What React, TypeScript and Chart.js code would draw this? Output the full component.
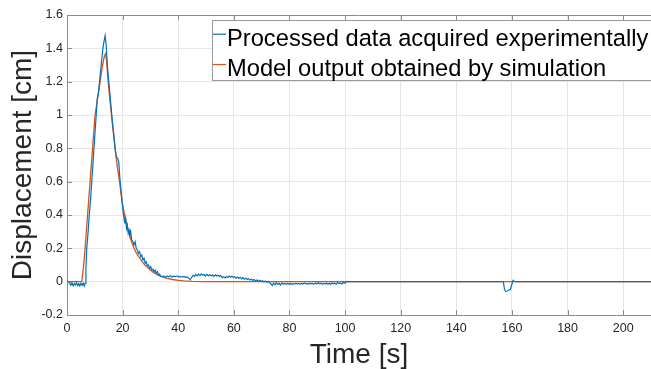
import { useEffect, useRef } from 'react';
import { Chart, registerables } from 'chart.js';

Chart.register(...registerables);

const xTicks = [0, 20, 40, 60, 80, 100, 120, 140, 160, 180, 200];
const yTicks = [-0.2, 0, 0.2, 0.4, 0.6, 0.8, 1, 1.2, 1.4, 1.6];
const seriesLabels = ['Processed data acquired experimentally', 'Model output obtained by simulation'];
const xTitle = 'Time [s]';
const yTitle = 'Displacement [cm]';

const expT = [
  0, 0.5, 1, 1.4, 1.8, 2.2, 2.6, 3, 3.4, 3.8, 4.2, 4.6, 5, 5.4, 5.8, 6.2, 6.5, 6.8, 7.1, 7.6,
  8, 8.5, 8.9, 9.3, 9.7, 10.1, 10.5, 10.9, 11.3, 11.7, 12.3, 12.9, 13.3, 13.7, 14.1, 14.5, 15.3, 16.1, 16.7, 17.3,
  17.7, 18.2, 18.6, 19.1, 19.7, 20.1, 20.5, 20.8, 21.1, 21.4, 21.7, 22.0, 22.3, 22.6, 22.9, 23.3, 23.7, 24.1, 24.5, 24.9,
  25.3, 25.7, 26.1, 26.5, 26.9, 27.3, 27.7, 28.1, 28.5, 28.9, 29.3, 29.7, 30.1, 30.5, 30.9, 31.3, 31.7, 32.1, 32.5, 32.9,
  33.3, 33.7, 34.2, 34.8, 35.4, 36, 36.6, 37.2, 37.8, 38.4, 39, 39.6, 40.2, 40.8, 41.4, 42, 42.6, 43.2, 43.8, 44.3,
  44.8, 45.3, 45.8, 46.3, 46.8, 47.3, 47.8, 48.3, 48.8, 49.3, 49.8, 50.3, 50.8, 51.3, 51.8, 52.3, 52.8, 53.3, 53.8, 54.3,
  54.8, 55.3, 55.8, 56.3, 56.8, 57.3, 57.8, 58.3, 58.8, 59.3, 59.8, 60.3, 60.8, 61.3, 61.8, 62.3, 62.8, 63.3, 63.8, 64.3,
  64.8, 65.3, 65.8, 66.3, 66.8, 67.3, 67.8, 68.3, 68.8, 69.3, 69.8, 70.3, 70.8, 71.3, 71.8, 72.3, 72.8, 73.3, 73.8, 74.3,
  74.8, 75.3, 75.8, 76.3, 76.8, 77.3, 77.8, 78.3, 78.8, 79.3, 79.8, 80.3, 80.8, 81.3, 81.8, 82.3, 82.8, 83.3, 83.8, 84.3,
  84.8, 85.3, 85.8, 86.3, 86.8, 87.3, 87.8, 88.3, 88.8, 89.3, 89.8, 90.3, 90.8, 91.3, 91.8, 92.3, 92.8, 93.3, 93.8, 94.3,
  94.8, 95.3, 95.8, 96.3, 96.8, 97.3, 97.8, 98.3, 98.8, 99.3, 99.8, 100.3, 100.8, 101.3, 156.9, 157.3, 157.7, 158.3, 158.9, 159.4,
  159.9, 160.4, 160.8, 161.2, 210,
];
const expY = [
  0, 0, -0.012, -0.022, -0.008, -0.025, -0.012, -0.02, -0.006, -0.024, -0.012, -0.026, -0.01, -0.022, -0.008, -0.026, -0.01, 0.08, 0.2, 0.3,
  0.4, 0.5, 0.6, 0.7, 0.8, 0.9, 1.0, 1.1, 1.13, 1.2, 1.3, 1.4, 1.44, 1.476, 1.42, 1.3, 1.15, 1.0, 0.9, 0.8,
  0.75, 0.74, 0.72, 0.6, 0.5, 0.43, 0.38, 0.35, 0.38, 0.32, 0.34, 0.29, 0.31, 0.28, 0.3, 0.25, 0.24, 0.22, 0.24, 0.2,
  0.19, 0.17, 0.18, 0.15, 0.16, 0.13, 0.14, 0.11, 0.12, 0.095, 0.1, 0.08, 0.09, 0.07, 0.075, 0.06, 0.07, 0.05, 0.06, 0.04,
  0.045, 0.033, 0.03, 0.035, 0.027, 0.034, 0.029, 0.036, 0.028, 0.033, 0.03, 0.035, 0.028, 0.032, 0.027, 0.031, 0.026, 0.028, 0.02, 0.012,
  0.025, 0.038, 0.032, 0.044, 0.035, 0.045, 0.036, 0.047, 0.038, 0.043, 0.034, 0.044, 0.036, 0.042, 0.035, 0.04, 0.032, 0.041, 0.034, 0.039,
  0.031, 0.037, 0.024, 0.03, 0.022, 0.031, 0.025, 0.034, 0.027, 0.033, 0.026, 0.03, 0.021, 0.028, 0.019, 0.026, 0.017, 0.024, 0.015, 0.021,
  0.013, 0.018, 0.01, 0.015, 0.008, 0.012, 0.005, 0.01, 0.003, 0.008, 0.001, 0.006, -0.002, 0.004, -0.004, 0.002, -0.006, -0.012, -0.024, -0.008,
  -0.018, -0.006, -0.016, -0.01, -0.02, -0.008, -0.015, -0.01, -0.016, -0.009, -0.015, -0.01, -0.017, -0.011, -0.015, -0.009, -0.014, -0.01, -0.016, -0.011,
  -0.014, -0.008, -0.013, -0.01, -0.015, -0.009, -0.013, -0.01, -0.016, -0.008, -0.014, -0.006, -0.013, -0.009, -0.015, -0.01, -0.014, -0.008, -0.015, -0.01,
  -0.016, -0.007, -0.013, -0.009, -0.015, -0.006, -0.012, -0.008, -0.014, -0.005, -0.01, -0.004, 0.002, 0, 0, -0.045, -0.058, -0.056, -0.05, -0.048,
  -0.02, 0.008, 0.002, 0, 0,
];

const simT = [
  0, 5.3, 6, 6.5, 7.4, 8.3, 9.2, 10.1, 11, 11.9, 12.8, 13.4, 13.8, 14.2, 14.8, 15.5, 16.3, 17.3, 18.1, 18.9,
  19.8, 20.7, 21.5, 22.3, 23.2, 24.1, 25, 26, 27, 28, 29, 30, 31, 32, 33, 34, 36, 38, 40, 42,
  45, 50, 210,
];
const simY = [
  0, 0, 0.1, 0.2, 0.4, 0.6, 0.8, 1.0, 1.1, 1.2, 1.3, 1.35, 1.366, 1.33, 1.2, 1.08, 0.95, 0.8, 0.69, 0.6,
  0.48, 0.4, 0.34, 0.29, 0.24, 0.2, 0.17, 0.145, 0.12, 0.1, 0.085, 0.07, 0.057, 0.047, 0.038, 0.03, 0.02, 0.013, 0.008, 0.005,
  0.002, 0, 0,
];

const BLUE = '#0072BD';
const ORANGE = '#D95319';
const FONT = '"Liberation Sans", Arial, sans-serif';

const framePlugin = {
  id: 'frame',
  afterDatasetsDraw(chart: any) {
    const { ctx, chartArea: a, scales } = chart;
    ctx.save();
    ctx.strokeStyle = '#8c8c8c';
    ctx.lineWidth = 1;
    ctx.beginPath();
    ctx.moveTo(a.left, a.top + 0.5);
    ctx.lineTo(a.right + 2, a.top + 0.5);
    const L = 5;
    xTicks.forEach((v) => {
      const px = Math.round(scales.x.getPixelForValue(v)) + 0.5;
      ctx.moveTo(px, a.bottom);
      ctx.lineTo(px, a.bottom - L);
      ctx.moveTo(px, a.top);
      ctx.lineTo(px, a.top + L);
    });
    yTicks.forEach((v) => {
      const py = Math.round(scales.y.getPixelForValue(v)) + 0.5;
      ctx.moveTo(a.left, py);
      ctx.lineTo(a.left + L, py);
    });
    ctx.stroke();

    // legend box (extends past the right edge, as in the reference)
    const bx = 212.5, by = 20.5, bw = 500, bh = 60;
    ctx.fillStyle = '#ffffff';
    ctx.fillRect(bx, by, bw, bh);
    ctx.strokeStyle = '#9a9a9a';
    ctx.strokeRect(bx, by, bw, bh);
    const rows = [
      { color: BLUE, y: 45.7 },
      { color: ORANGE, y: 76 },
    ];
    ctx.font = `23.7px ${FONT}`;
    ctx.textBaseline = 'alphabetic';
    ctx.textAlign = 'left';
    rows.forEach((r, i) => {
      ctx.strokeStyle = r.color;
      ctx.lineWidth = 1.2;
      ctx.beginPath();
      const ly = r.y - 11.5;
      ctx.moveTo(213, ly);
      ctx.lineTo(226, ly);
      ctx.stroke();
      ctx.fillStyle = '#000000';
      ctx.fillText(seriesLabels[i], 227, r.y);
    });
    ctx.restore();
  },
};

export default function App() {
  const ref = useRef<HTMLCanvasElement | null>(null);
  useEffect(() => {
    if (!ref.current) return;
    const chart = new Chart(ref.current, {
      type: 'line',
      data: {
        datasets: [
          {
            label: seriesLabels[0],
            data: expT.map((t, i) => ({ x: t, y: expY[i] })),
            borderColor: BLUE,
            borderWidth: 1.2,
            pointRadius: 0,
            tension: 0,
            fill: false,
          },
          {
            label: seriesLabels[1],
            data: simT.map((t, i) => ({ x: t, y: simY[i] })),
            borderColor: ORANGE,
            borderWidth: 1.3,
            pointRadius: 0,
            tension: 0,
            fill: false,
          },
        ],
      },
      options: {
        responsive: false,
        animation: false,
        events: [],
        layout: { padding: { top: 15, right: 0, left: 0, bottom: 0 } },
        plugins: { legend: { display: false }, tooltip: { enabled: false } },
        scales: {
          x: {
            type: 'linear',
            min: 0,
            max: 210,
            afterBuildTicks: (axis: any) => {
              axis.ticks = xTicks.map((v) => ({ value: v }));
            },
            afterFit: (s: any) => {
              s.height = 54;
            },
            grid: { color: '#e6e6e6', drawTicks: false },
            border: { color: '#8c8c8c' },
            ticks: {
              padding: 6,
              color: '#262626',
              font: { family: FONT, size: 12.5 },
              maxRotation: 0,
              callback: (v: any) => String(v),
            },
            title: {
              display: true,
              text: xTitle,
              color: '#262626',
              font: { family: FONT, size: 28 },
              padding: { top: 0, bottom: -3 },
            },
          },
          y: {
            type: 'linear',
            min: -0.2,
            max: 1.6,
            afterBuildTicks: (axis: any) => {
              axis.ticks = yTicks.map((v) => ({ value: v }));
            },
            afterFit: (s: any) => {
              s.width = 67;
            },
            grid: { color: '#e6e6e6', drawTicks: false },
            border: { color: '#8c8c8c' },
            ticks: {
              padding: 4,
              color: '#262626',
              font: { family: FONT, size: 12.5 },
              callback: (v: any) => String(v),
            },
            title: {
              display: true,
              text: yTitle,
              color: '#262626',
              font: { family: FONT, size: 28 },
              padding: { top: 6.5, bottom: 0 },
            },
          },
        },
      },
      plugins: [framePlugin],
    } as any);
    return () => chart.destroy();
  }, []);
  return (
    <div style={{ position: 'fixed', left: 0, top: 0, width: 651, height: 369, background: '#fff', overflow: 'hidden' }}>
      <canvas ref={ref} width={651} height={369} style={{ display: 'block', width: 651, height: 369 }} />
    </div>
  );
}
